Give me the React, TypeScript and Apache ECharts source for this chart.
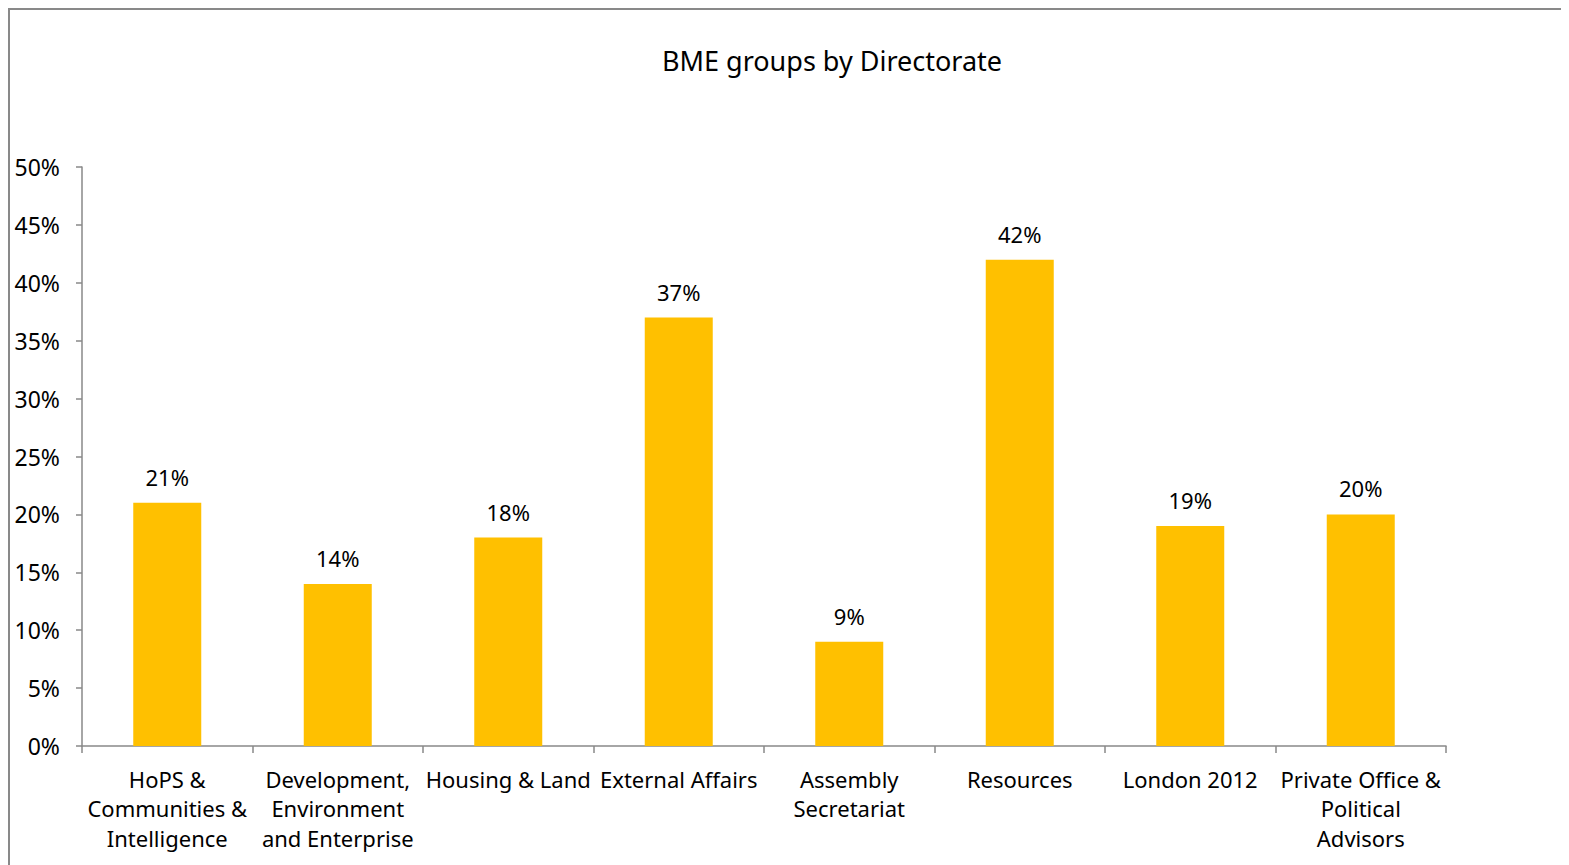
import React, { useEffect, useRef } from "react";
import * as echarts from "echarts";

const title = "BME groups by Directorate";
const categories = [
  "HoPS &\nCommunities &\nIntelligence",
  "Development,\nEnvironment\nand Enterprise",
  "Housing & Land",
  "External Affairs",
  "Assembly\nSecretariat",
  "Resources",
  "London 2012",
  "Private Office &\nPolitical\nAdvisors",
];
const values = [21, 14, 18, 37, 9, 42, 19, 20];
const yMax = 50;
const yStep = 5;

const FONT = "'Noto Sans', sans-serif";

export default function App() {
  const ref = useRef<HTMLDivElement>(null);
  useEffect(() => {
    if (!ref.current) return;
    const chart = echarts.init(ref.current, null, { renderer: "svg" });
    chart.setOption({
      animation: false,
      backgroundColor: "#fff",
      title: {
        text: title,
        left: 817,
        textAlign: "center",
        top: 32,
        textStyle: { fontFamily: FONT, fontSize: 27, fontWeight: "normal", color: "#000" },
      },
      grid: { left: 72, top: 157, right: 123, bottom: 119, containLabel: false },
      xAxis: {
        type: "category",
        data: categories,
        axisLine: { lineStyle: { color: "#898989", width: 1.5 } },
        axisTick: { show: true, length: 7, alignWithLabel: false, lineStyle: { color: "#898989", width: 1.5 } },
        axisLabel: {
          interval: 0,
          fontFamily: FONT,
          fontSize: 22,
          color: "#000",
          lineHeight: 29.5,
          margin: 18,
        },
      },
      yAxis: {
        type: "value",
        min: 0,
        max: yMax,
        interval: yStep,
        splitLine: { show: false },
        axisLine: { show: true, lineStyle: { color: "#898989", width: 1.5 } },
        axisTick: { show: true, length: 6, lineStyle: { color: "#898989", width: 1.5 } },
        axisLabel: {
          fontFamily: FONT,
          fontSize: 23,
          color: "#000",
          margin: 22,
          formatter: (v: number) => v + "%",
        },
      },
      series: [
        {
          type: "bar",
          data: values,
          barWidth: 68,
          itemStyle: { color: "#FFC000" },
          label: {
            show: true,
            position: "top",
            distance: 15,
            fontFamily: FONT,
            fontSize: 22,
            color: "#000",
            formatter: (p: any) => p.value + "%",
          },
        },
      ],
    });
    return () => chart.dispose();
  }, []);
  return (
    <div
      style={{
        width: 1561,
        height: 857,
        borderTop: "2px solid #898989",
        borderLeft: "2px solid #898989",
        boxSizing: "border-box",
        overflow: "hidden",
      }}
    >
      <div ref={ref} style={{ width: 1559, height: 855 }} />
    </div>
  );
}
